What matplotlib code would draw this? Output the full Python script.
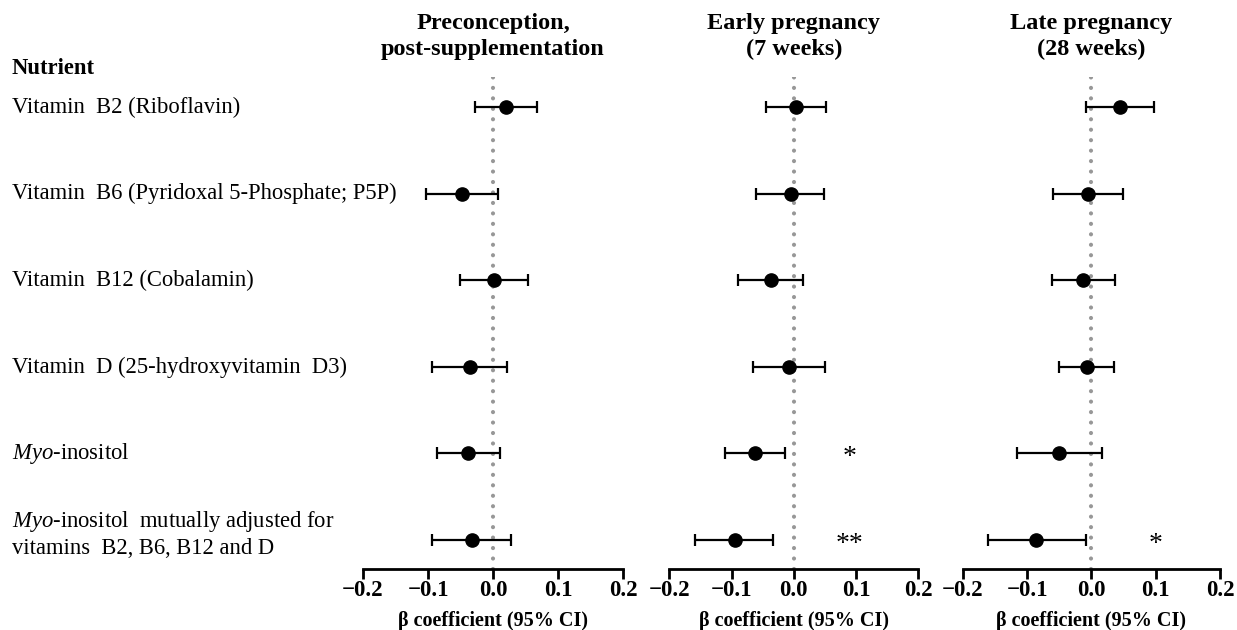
import matplotlib.pyplot as plt
import matplotlib.transforms as mtransforms
import numpy as np

plt.rcParams['font.family'] = ['Liberation Serif', 'DejaVu Serif']
plt.rcParams['mathtext.fontset'] = 'custom'
plt.rcParams['mathtext.rm'] = 'Liberation Serif'
plt.rcParams['mathtext.it'] = 'Liberation Serif:italic'

# nutrients (rows, top to bottom)
nutrients = [
    'Vitamin  B2 (Riboflavin)',
    'Vitamin  B6 (Pyridoxal 5-Phosphate; P5P)',
    'Vitamin  B12 (Cobalamin)',
    'Vitamin  D (25-hydroxyvitamin  D3)',
    r'$\it{Myo}$-inositol',
    r'$\it{Myo}$-inositol  mutually adjusted for' + '\n' + 'vitamins  B2, B6, B12 and D',
]

panel_titles = ['Preconception,\npost-supplementation',
                'Early pregnancy\n(7 weeks)',
                'Late pregnancy\n(28 weeks)']

# beta coefficients and 95% CI per panel
beta_pre = [0.020, -0.048, 0.001, -0.035, -0.038, -0.033]
low_pre = [-0.028, -0.103, -0.051, -0.094, -0.087, -0.094]
high_pre = [0.067, 0.007, 0.054, 0.022, 0.010, 0.027]

beta_early = [0.004, -0.005, -0.037, -0.008, -0.063, -0.095]
low_early = [-0.044, -0.060, -0.089, -0.066, -0.111, -0.159]
high_early = [0.051, 0.049, 0.014, 0.050, -0.014, -0.033]

beta_late = [0.044, -0.005, -0.013, -0.007, -0.050, -0.086]
low_late = [-0.009, -0.060, -0.062, -0.050, -0.115, -0.161]
high_late = [0.098, 0.049, 0.036, 0.035, 0.016, -0.009]

stars_early = ['', '', '', '', '*', '**']
stars_late = ['', '', '', '', '', '*']
star_x = [None, 0.09, 0.10]

panels = [
    (beta_pre, low_pre, high_pre, None),
    (beta_early, low_early, high_early, stars_early),
    (beta_late, low_late, high_late, stars_late),
]

# axes boxes in figure fraction [left, bottom, width, height]
boxes = [
    [0.2935, 0.0968, 0.2102, 0.781],
    [0.5411, 0.0968, 0.2013, 0.781],
    [0.7783, 0.0968, 0.2080, 0.781],
]

fig = plt.figure(figsize=(12.37, 6.3), dpi=100)
y = np.arange(len(nutrients))
axes = []

for i, (beta, lo, hi, stars) in enumerate(panels):
    ax = fig.add_axes(boxes[i])
    axes.append(ax)
    beta = np.array(beta)
    err = [beta - np.array(lo), np.array(hi) - beta]
    ax.axvline(0, color='#979797', lw=3.0, linestyle=(0, (0.01, 2.5)),
               dash_capstyle='round', zorder=1)
    ax.errorbar(beta, y, xerr=err, fmt='o', color='black', ms=9.5,
                elinewidth=1.6, capsize=4.6, capthick=1.6, zorder=3)
    if stars:
        for yy, s in zip(y, stars):
            if s:
                ax.text(star_x[i], yy + 0.05, s, ha='center', va='center',
                        fontsize=20)
    ax.set_xlim(-0.2, 0.2)
    ax.set_ylim(len(nutrients) - 1 + 0.335, -0.35)
    ax.set_xticks([-0.2, -0.1, 0.0, 0.1, 0.2])
    ax.set_xticklabels(['\u22120.2', '\u22120.1', '0.0', '0.1', '0.2'],
                       fontweight='bold', fontsize=16.5)
    ax.set_yticks([])
    for side in ['top', 'right', 'left']:
        ax.spines[side].set_visible(False)
    ax.spines['bottom'].set_linewidth(2.0)
    ax.tick_params(axis='x', length=7, width=2.0, pad=1)
    ax.set_xlabel('β coefficient (95% CI)', fontweight='bold', fontsize=14.5,
                  labelpad=7)
    ax.set_title(panel_titles[i], fontweight='bold', fontsize=17.5, pad=16,
                 linespacing=1.3)

# row labels on the left, x in figure fraction, y in data coords
trans = mtransforms.blended_transform_factory(fig.transFigure, axes[0].transData)
for yy, lab in zip(y, nutrients):
    shift = -0.07 if '\n' in lab else 0.0
    axes[0].text(12 / 1237, yy + shift, lab, transform=trans, ha='left',
                 va='center', fontsize=16.3, linespacing=1.25, clip_on=False)

fig.text(12 / 1237, 1 - 68 / 630, 'Nutrient', fontweight='bold', fontsize=16.3,
         ha='left', va='center')

fig.savefig('out.png', dpi=100)
